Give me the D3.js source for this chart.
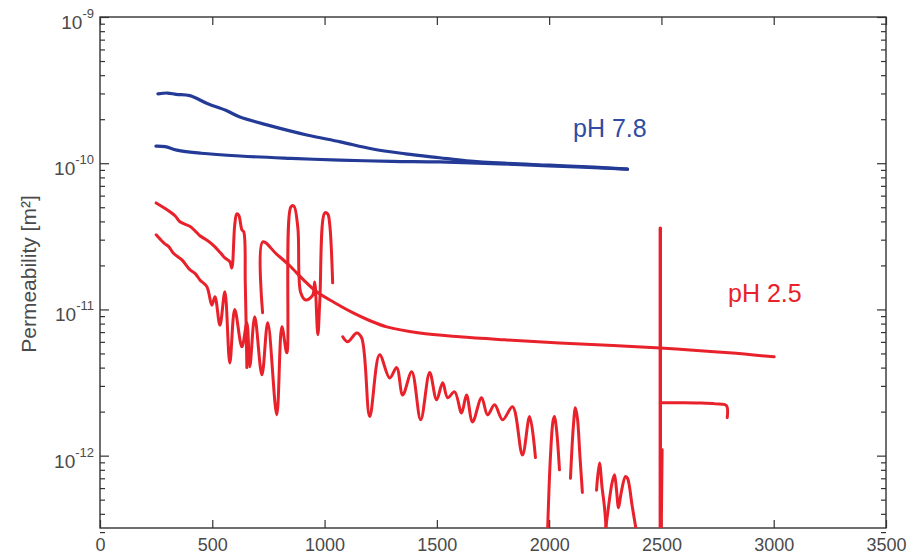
<!DOCTYPE html>
<html lang="en">
<head>
<meta charset="utf-8">
<title>Permeability</title>
<script src="https://d3js.org/d3.v7.min.js"></script>
<style>
  body { margin: 0; background: #fff; }
  text { font-family: "Liberation Sans", Arial, sans-serif; }
</style>
</head>
<body>
<script>
// time (x) vs permeability [m2] (y)
var blueUpper = [[258,2.98e-10],[300,3.02e-10],[340,2.96e-10],[400,2.9e-10],[480,2.55e-10],[560,2.3e-10],[623,2.07e-10],
  [760,1.8e-10],[921,1.56e-10],[1070,1.4e-10],[1214,1.25e-10],[1360,1.16e-10],[1512,1.09e-10],[1632,1.04e-10],
  [1800,1.0e-10],[2002,9.7e-11],[2200,9.4e-11],[2349,9.1e-11]];
var blueLower = [[249,1.31e-10],[290,1.3e-10],[342,1.23e-10],[450,1.17e-10],[623,1.12e-10],[850,1.08e-10],
  [1068,1.05e-10],[1300,1.03e-10],[1512,1.02e-10],[1779,9.9e-11],[2000,9.6e-11],[2349,9.1e-11]];

var redA = [[250,5.35e-11],[290,4.9e-11],[334,4.37e-11],[356,3.98e-11],[400,3.7e-11],[423,3.45e-11],[445,3.19e-11],
  [480,2.95e-11],[512,2.68e-11],[535,2.45e-11],[556,2.25e-11],[578,2.12e-11],[587,1.92e-11],[600,3.79e-11],
  [609,4.5e-11],[618,4.4e-11],[632,3.5e-11],[640,3.4e-11],[647,1.5e-11],[654,4.0e-12]];
var redB = [[250,3.24e-11],[270,3.0e-11],[289,2.81e-11],[305,2.7e-11],[325,2.44e-11],[345,2.3e-11],[365,2.18e-11],
  [400,1.87e-11],[425,1.75e-11],[445,1.59e-11],[476,1.43e-11],[498,1.07e-11],[512,1.22e-11],[534,7.8e-12],
  [556,1.32e-11],[578,4.3e-12],[600,1.0e-11],[632,5.55e-12],[654,8.1e-12],[667,4.06e-12],[689,8.9e-12],
  [721,3.57e-12],[747,8.1e-12],[787,1.9e-12],[810,7.6e-12],[832,5.05e-12],[850,5.03e-11],[863,5.1e-11],
  [881,3.62e-11],[894,1.3e-11],[916,1.16e-11],[947,1.25e-11],[956,1.54e-11],[970,6.7e-12],[979,1.16e-11],
  [1001,4.57e-11],[1014,4.5e-11],[1023,3.8e-11],[1036,1.52e-11]];
var redC = [[724,9.5e-12],[725,2.9e-11],[785,2.4e-11],[845,1.99e-11],[905,1.6e-11],[965,1.32e-11],[1045,1.11e-11],
  [1125,9.5e-12],[1200,8.4e-12],[1277,7.6e-12],[1423,6.9e-12],[1601,6.5e-12],[1800,6.2e-12],[2046,5.9e-12],
  [2495,5.45e-12],[2800,5.05e-12],[3002,4.74e-12]];
var redD = [[1081,6.5e-12],[1103,6.0e-12],[1143,6.9e-12],[1165,6.4e-12],[1201,1.85e-12],[1245,4.9e-12],[1290,3.4e-12],
  [1321,4.0e-12],[1348,2.6e-12],[1388,3.75e-12],[1428,1.76e-12],[1468,3.7e-12],[1499,2.41e-12],[1526,3.15e-12],
  [1548,2.49e-12],[1579,2.73e-12],[1610,1.96e-12],[1632,2.6e-12],[1659,1.7e-12],[1699,2.49e-12],[1726,1.9e-12],
  [1757,2.23e-12],[1793,1.76e-12],[1837,2.16e-12],[1881,1.01e-12],[1913,1.85e-12],[1939,9.7e-13]];
var redE1 = [[1993,3.0e-13],[2006,1.0e-12],[2018,1.75e-12],[2024,1.85e-12],[2033,1.5e-12],[2046,8e-13]];
var redE2 = [[2095,7e-13],[2108,1.6e-12],[2117,2.13e-12],[2126,1.8e-12],[2137,1.0e-12],[2148,5.6e-13]];
var redE3 = [[2211,5.8e-13],[2224,8.9e-13],[2236,6e-13],[2246,4.5e-13],[2255,3.0e-13]];
var redE4 = [[2250,3.0e-13],[2262,4.2e-13],[2280,6.5e-13],[2291,7.4e-13],[2300,5.8e-13],[2309,4.4e-13],
  [2320,5.5e-13],[2340,7.2e-13],[2349,7.0e-13],[2370,4.5e-13],[2389,3.0e-13]];
var redJump = [[2495,3.6e-11],[2495,3.0e-13]];
var redTail = [[2504,1.1e-12],[2500,3.0e-13]];
var redBranch = [[2504,2.3e-12],[2600,2.3e-12],[2669,2.29e-12],[2740,2.26e-12],[2789,2.2e-12],[2793,1.82e-12]];

var xTicks = [0, 500, 1000, 1500, 2000, 2500, 3000, 3500];
var yMajor = [1e-12, 1e-11, 1e-10, 1e-9];
var yMinor = [];
[-13, -12, -11, -10].forEach(function(e) {
  [2,3,4,5,6,7,8,9].forEach(function(m) { yMinor.push(m * Math.pow(10, e)); });
});
var yExp = {"1e-12": "-12", "1e-11": "-11", "1e-10": "-10", "1e-9": "-9"};

var w = 918, h = 557;
var margin = {top: 17, right: 32, bottom: 29, left: 100};
var blue = "#233a96", red = "#e8212b";

var svg = d3.select("body").append("svg")
  .attr("width", w)
  .attr("height", h);

var x = d3.scaleLinear().domain([0, 3500]).range([margin.left, w - margin.right]);
var y = d3.scaleLog().domain([3.2e-13, 1e-9]).range([h - margin.bottom, margin.top]);

svg.append("clipPath").attr("id", "plot")
  .append("rect")
  .attr("x", margin.left).attr("y", margin.top)
  .attr("width", w - margin.left - margin.right)
  .attr("height", h - margin.top - margin.bottom);

// axes
var styleAxis = function(g) {
  g.select(".domain").remove();
  g.selectAll(".tick line").attr("stroke", "#333").attr("stroke-width", 1.2);
  g.selectAll(".tick text").attr("fill", "#4a4a4a");
};

svg.append("g")
  .attr("transform", "translate(0," + (h - margin.bottom) + ")")
  .call(d3.axisBottom(x).tickValues(xTicks).tickFormat(d3.format("d"))
    .tickSizeInner(-8).tickSizeOuter(0).tickPadding(10))
  .call(styleAxis)
  .selectAll("text").attr("font-size", "18px");

svg.append("g")
  .attr("transform", "translate(0," + margin.top + ")")
  .call(d3.axisTop(x).tickValues(xTicks).tickSizeInner(-8).tickSizeOuter(0).tickFormat(""))
  .call(styleAxis);

var yLeft = svg.append("g")
  .attr("transform", "translate(" + margin.left + ",0)")
  .call(d3.axisLeft(y).tickValues(yMajor).tickSizeInner(-9).tickSizeOuter(0).tickPadding(6))
  .call(styleAxis);

yLeft.selectAll(".tick text")
  .attr("font-size", "19px")
  .attr("dy", "0.6em")
  .text("10")
  .append("tspan")
  .attr("font-size", "13px")
  .attr("dy", "-0.85em")
  .text(function(d) { return yExp[String(d)]; });

svg.append("g")
  .attr("transform", "translate(" + margin.left + ",0)")
  .call(d3.axisLeft(y).tickValues(yMinor).tickSizeInner(-5).tickSizeOuter(0).tickFormat(""))
  .call(styleAxis);

svg.append("g")
  .attr("transform", "translate(" + (w - margin.right) + ",0)")
  .call(d3.axisRight(y).tickValues(yMajor).tickSizeInner(-9).tickSizeOuter(0).tickFormat(""))
  .call(styleAxis);

svg.append("g")
  .attr("transform", "translate(" + (w - margin.right) + ",0)")
  .call(d3.axisRight(y).tickValues(yMinor).tickSizeInner(-5).tickSizeOuter(0).tickFormat(""))
  .call(styleAxis);

// frame
svg.append("rect")
  .attr("x", margin.left).attr("y", margin.top)
  .attr("width", w - margin.left - margin.right)
  .attr("height", h - margin.top - margin.bottom)
  .attr("fill", "none")
  .attr("stroke", "#333")
  .attr("stroke-width", 1.4);

// curves
var smooth = d3.line()
  .x(function(d) { return x(d[0]); })
  .y(function(d) { return y(d[1]); })
  .curve(d3.curveCatmullRom.alpha(0.5));
var straight = d3.line()
  .x(function(d) { return x(d[0]); })
  .y(function(d) { return y(d[1]); });

var plot = svg.append("g").attr("clip-path", "url(#plot)");

var drawLine = function(data, color, gen, sw) {
  plot.append("path")
    .datum(data)
    .attr("fill", "none")
    .attr("stroke", color)
    .attr("stroke-width", sw)
    .attr("stroke-linejoin", "round")
    .attr("stroke-linecap", "round")
    .attr("d", gen);
};

drawLine(blueUpper, blue, smooth, 3.2);
drawLine(blueLower, blue, smooth, 3.2);

[redA, redB, redD, redE1, redE2, redE3, redE4, redBranch].forEach(function(s) {
  drawLine(s, red, smooth, 3);
});
drawLine(redC, red, smooth, 3);
drawLine(redJump, red, straight, 3.4);
drawLine(redTail, red, straight, 2.6);

// labels
svg.append("text")
  .attr("x", 573).attr("y", 137)
  .attr("font-size", "25px")
  .attr("fill", "#2f4ba3")
  .text("pH 7.8");

svg.append("text")
  .attr("x", 728).attr("y", 302)
  .attr("font-size", "25px")
  .attr("fill", red)
  .text("pH 2.5");

svg.append("text")
  .attr("transform", "translate(36,274) rotate(-90)")
  .attr("text-anchor", "middle")
  .attr("font-size", "21px")
  .attr("fill", "#4a4a4a")
  .text("Permeability [m²]");
</script>
</body>
</html>
